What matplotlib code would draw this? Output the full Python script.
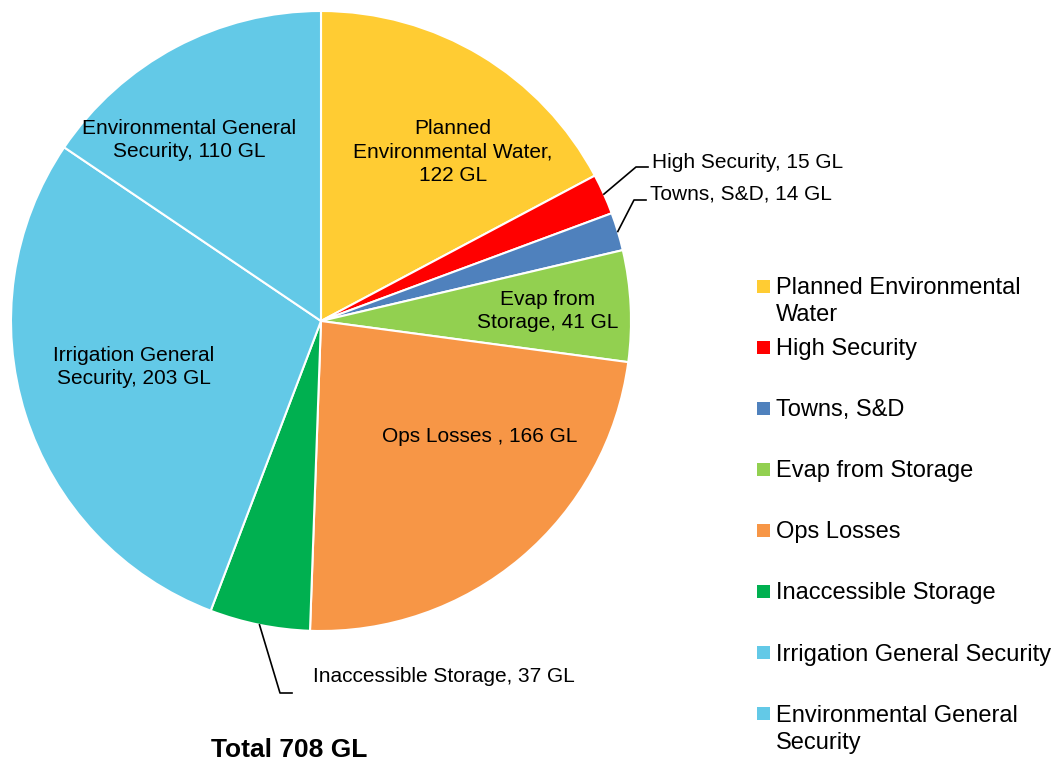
import matplotlib
matplotlib.use('Agg')
import matplotlib.pyplot as plt
from matplotlib.patches import Rectangle
import numpy as np

plt.rcParams['font.family'] = ['Liberation Sans', 'DejaVu Sans']

# water use breakdown (GL)
categories = ['Planned Environmental\nWater', 'High Security', 'Towns, S&D',
              'Evap from Storage', 'Ops Losses', 'Inaccessible Storage',
              'Irrigation General Security', 'Environmental General\nSecurity']
values = [122, 15, 14, 41, 166, 37, 203, 110]
colors = ['#FFCC33', '#FF0000', '#4F81BD', '#92D050', '#F79646',
          '#00B050', '#63C9E7', '#63C9E7']
slice_labels = ['Planned\nEnvironmental Water,\n122 GL', 'High Security, 15 GL',
                'Towns, S&D, 14 GL', 'Evap from\nStorage, 41 GL',
                'Ops Losses , 166 GL', 'Inaccessible Storage, 37 GL',
                'Irrigation General\nSecurity, 203 GL',
                'Environmental General\nSecurity, 110 GL']
total_label = 'Total %d GL' % sum(values)

W, H = 1056, 765
fig = plt.figure(figsize=(W / 100, H / 100), dpi=100)
ax = fig.add_axes([0, 0, 1, 1])

def px(x, y):
    # pixel position (from top-left) -> data coords
    return x, H - y

cx, cy = px(321, 321)
R = 310
wedges, _ = ax.pie(values, colors=colors, startangle=90, counterclock=False,
                   center=(cx, cy), radius=R,
                   wedgeprops=dict(edgecolor='white', linewidth=1.5))
ax.set_xlim(0, W)
ax.set_ylim(0, H)
ax.set_aspect('auto')
ax.axis('off')

fs = 15
# labels sitting inside slices
inside = {0: (453, 152), 3: (548, 311), 4: (480, 436), 6: (134, 367), 7: (189, 140)}
for i, (x, y) in inside.items():
    ax.text(*px(x, y), slice_labels[i], ha='center', va='center', fontsize=fs,
            linespacing=1.3)

# labels outside with leader lines: text pos, elbow pos
outside = {1: ((652, 162), (636, 167)),
           2: ((650, 194), (634, 200)),
           5: ((313, 676), (280, 693))}
for i, ((tx, ty), (ex, ey)) in outside.items():
    w = wedges[i]
    mid = np.deg2rad((w.theta1 + w.theta2) / 2)
    sx, sy = cx + R * np.cos(mid), cy + R * np.sin(mid)
    exd, eyd = px(ex, ey)
    ax.plot([sx, exd, exd + 12], [sy, eyd, eyd], color='black', lw=1.2)
    ax.text(*px(tx, ty), slice_labels[i], ha='left', va='center', fontsize=fs)

ax.text(*px(289, 750), total_label, ha='center', va='center', fontsize=19,
        fontweight='bold')

# legend drawn by hand, one row per category
leg_y0, leg_dy = 286, 61.1
for i, (name, c) in enumerate(zip(categories, colors)):
    ry = leg_y0 + i * leg_dy
    x0, y0 = px(757, ry + 6.5)
    ax.add_patch(Rectangle((x0, y0), 13, 13, facecolor=c, edgecolor='none'))
    ax.text(*px(776, ry - 9), name, ha='left', va='top', fontsize=17,
            linespacing=1.3)

fig.savefig('out.png', dpi=100)
